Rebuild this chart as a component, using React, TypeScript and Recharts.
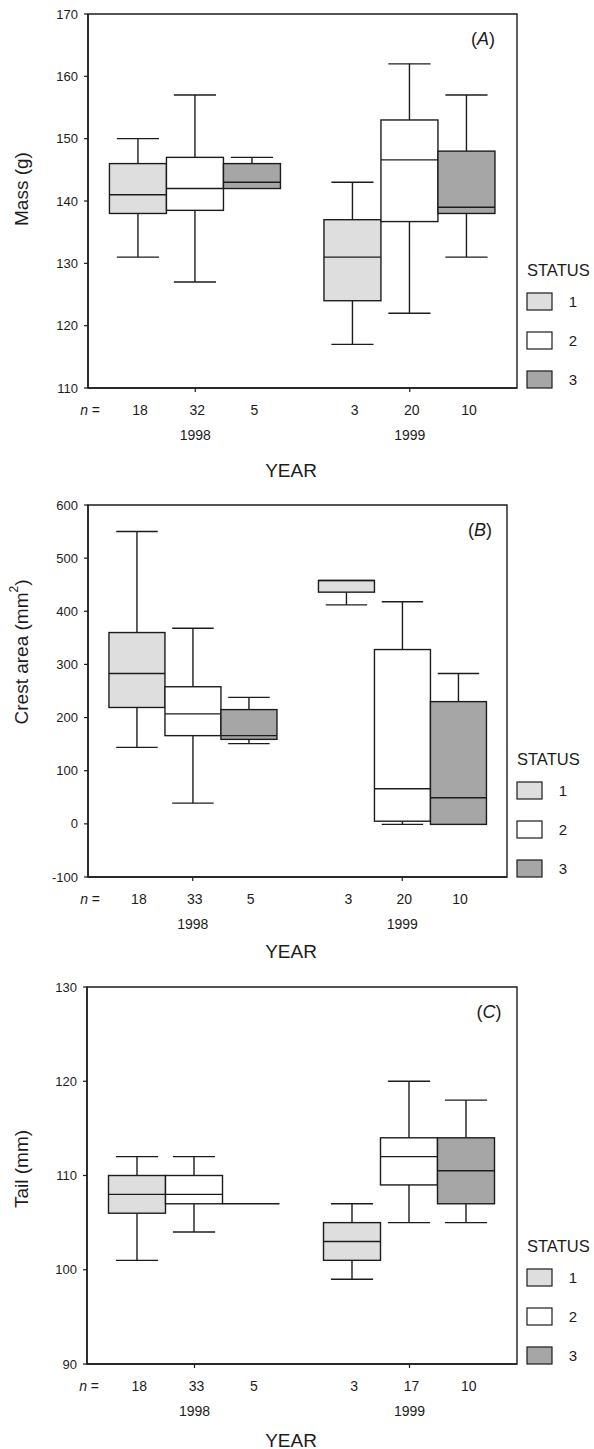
import React from "react"
import { Bar, ComposedChart, ReferenceArea, XAxis, YAxis } from "recharts"

// each box is [min, q1, median, q3, max]
const years = ["1998", "1999"]
const statuses = ["1", "2", "3"]
const statusFills = ["#dedede", "#ffffff", "#a6a6a6"]

const massStatus1 = [[131, 138, 141, 146, 150], [117, 124, 131, 137, 143]]
const massStatus2 = [[127, 138.5, 142, 147, 157], [122, 136.7, 146.6, 153, 162]]
const massStatus3 = [[142, 142, 143, 146, 147], [131, 138, 139, 148, 157]]
const massN = [[18, 32, 5], [3, 20, 10]]
const massTicks = [110, 120, 130, 140, 150, 160, 170]

const crestStatus1 = [[144, 219, 283, 360, 550], [412, 436, 458, 458, 458]]
const crestStatus2 = [[39, 166, 207, 258, 368], [-1, 5, 66, 328, 418]]
const crestStatus3 = [[151, 159, 166, 215, 238], [-1, -1, 49, 230, 283]]
const crestN = [[18, 33, 5], [3, 20, 10]]
const crestTicks = [-100, 0, 100, 200, 300, 400, 500, 600]

const tailStatus1 = [[101, 106, 108, 110, 112], [99, 101, 103, 105, 107]]
const tailStatus2 = [[104, 107, 108, 110, 112], [105, 109, 112, 114, 120]]
const tailStatus3 = [[107, 107, 107, 107, 107], [105, 107, 110.5, 114, 118]]
const tailN = [[18, 33, 5], [3, 17, 10]]
const tailTicks = [90, 100, 110, 120, 130]

type Row = { year: string; s1: number[]; s2: number[]; s3: number[]; n: number[] }

const buildRows = (s1: number[][], s2: number[][], s3: number[][], n: number[][]): Row[] =>
  years.map((year, i) => ({ year, s1: s1[i], s2: s2[i], s3: s3[i], n: n[i] }))

const INK = "#1c1c1c"
const FONT = "'Liberation Sans', Arial, sans-serif"
const W = 594
const GAP = 0.1

const BoxShape = (props: any) => {
  const { x, y, width, height, stats, fill } = props
  const [lo, q1, med, q3, hi] = stats as number[]
  const top = Math.min(y, y + height)
  const bottom = Math.max(y, y + height)
  const span = hi - lo
  const py = (v: number) => (span === 0 ? top : top + ((hi - v) / span) * (bottom - top))
  const cx = x + width / 2
  const cap = width * 0.74
  const yq1 = py(q1)
  const yq3 = py(q3)
  return (
    <g stroke={INK} strokeWidth={1.4} fill="none">
      <line x1={cx} x2={cx} y1={py(hi)} y2={yq3} />
      <line x1={cx} x2={cx} y1={yq1} y2={py(lo)} />
      {hi > q3 && <line x1={cx - cap / 2} x2={cx + cap / 2} y1={py(hi)} y2={py(hi)} />}
      {lo < q1 && <line x1={cx - cap / 2} x2={cx + cap / 2} y1={py(lo)} y2={py(lo)} />}
      {yq1 - yq3 > 0 && <rect x={x} y={yq3} width={width} height={yq1 - yq3} fill={fill} />}
      <line x1={x} x2={x + width} y1={py(med)} y2={py(med)} />
    </g>
  )
}

interface PanelProps {
  rows: Row[]
  domain: [number, number]
  ticks: number[]
  yLabel: React.ReactNode
  tag: string
  top: number
  height: number
  plotTop: number
  plotBottom: number
  plotLeft: number
  plotRight: number
  yLabelCenter: number
  tagDx: number
  yearDy: number
}

function Panel(p: PanelProps) {
  const xAxisH = 70
  const margin = {
    top: p.plotTop,
    right: W - p.plotRight,
    bottom: p.height - p.plotBottom - xAxisH,
    left: 0,
  }
  const band = (p.plotRight - p.plotLeft) / years.length
  const barW = (band * (1 - 2 * GAP)) / statuses.length

  const renderTick = (t: any) => {
    const row = p.rows.find((r) => r.year === t.payload.value)
    if (!row) return <g />
    const nY = p.plotBottom + 27
    return (
      <g fontSize={14} fill={INK}>
        {t.index === 0 && (
          <text x={p.plotLeft + 12} y={nY} textAnchor="end" fill={INK}>
            <tspan fontStyle="italic">n</tspan> =
          </text>
        )}
        {row.n.map((n, k) => (
          <text key={k} x={t.x + (k - 1) * barW + 2} y={nY} textAnchor="middle" fill={INK}>
            {n}
          </text>
        ))}
        <text x={t.x} y={p.plotBottom + 52} textAnchor="middle" fill={INK}>
          {row.year}
        </text>
      </g>
    )
  }

  const legendX = p.plotRight + 10
  const swatchTops = [p.plotBottom - 95, p.plotBottom - 56, p.plotBottom - 17]

  return (
    <div style={{ position: "absolute", left: 0, top: p.top, width: W, height: p.height }}>
      <ComposedChart
        width={W}
        height={p.height}
        data={p.rows}
        margin={margin}
        barCategoryGap={`${GAP * 100}%`}
        barGap={0}
      >
        <XAxis
          dataKey="year"
          height={xAxisH}
          interval={0}
          tickSize={4}
          tickMargin={0}
          axisLine={{ stroke: INK, strokeWidth: 1.4 }}
          tickLine={{ stroke: INK, strokeWidth: 1.2 }}
          tick={renderTick}
        />
        <YAxis
          type="number"
          domain={p.domain}
          ticks={p.ticks}
          interval={0}
          width={p.plotLeft}
          tickSize={4}
          tickMargin={6}
          allowDataOverflow
          axisLine={{ stroke: INK, strokeWidth: 1.4 }}
          tickLine={{ stroke: INK, strokeWidth: 1.2 }}
          tick={{ fontSize: 13, fill: INK }}
        />
        <ReferenceArea
          y1={p.domain[0]}
          y2={p.domain[1]}
          fill="none"
          stroke={INK}
          strokeWidth={1.4}
          ifOverflow="visible"
        />
        {statuses.map((s, i) => {
          const key = ("s" + s) as "s1" | "s2" | "s3"
          return (
            <Bar
              key={s}
              dataKey={(d: Row) => [d[key][0], d[key][4]]}
              fill={statusFills[i]}
              isAnimationActive={false}
              shape={(bp: any) => <BoxShape {...bp} stats={bp.payload[key]} fill={statusFills[i]} />}
            />
          )
        })}
      </ComposedChart>
      <svg
        width={W}
        height={p.height}
        style={{ position: "absolute", left: 0, top: 0, pointerEvents: "none", overflow: "visible" }}
        fill={INK}
      >
        <text
          transform={`translate(21, ${p.yLabelCenter}) rotate(-90)`}
          textAnchor="middle"
          dominantBaseline="central"
          fontSize={19}
        >
          {p.yLabel}
        </text>
        <text x={p.plotRight - p.tagDx} y={p.plotTop + 31} textAnchor="middle" fontSize={18}>
          (<tspan fontStyle="italic">{p.tag}</tspan>)
        </text>
        <text x={291} y={p.plotBottom + p.yearDy} textAnchor="middle" fontSize={19}>
          YEAR
        </text>
        <text x={legendX} y={p.plotBottom - 112} fontSize={16.5}>
          STATUS
        </text>
        {statuses.map((s, i) => (
          <g key={s}>
            <rect
              x={legendX}
              y={swatchTops[i]}
              width={25}
              height={17}
              fill={statusFills[i]}
              stroke={INK}
              strokeWidth={1.2}
            />
            <text x={p.plotRight + 56} y={swatchTops[i] + 14} textAnchor="middle" fontSize={15}>
              {s}
            </text>
          </g>
        ))}
      </svg>
    </div>
  )
}

export default function App() {
  return (
    <div
      style={{
        position: "absolute",
        left: 0,
        top: 0,
        width: W,
        height: 1449,
        background: "#fff",
        fontFamily: FONT,
        color: INK,
      }}
    >
      <Panel
        rows={buildRows(massStatus1, massStatus2, massStatus3, massN)}
        domain={[110, 170]}
        ticks={massTicks}
        yLabel="Mass (g)"
        tag="A"
        top={0}
        height={480}
        plotTop={14}
        plotBottom={388}
        plotLeft={88}
        plotRight={517}
        yLabelCenter={189}
        tagDx={34}
        yearDy={89}
      />
      <Panel
        rows={buildRows(crestStatus1, crestStatus2, crestStatus3, crestN)}
        domain={[-100, 600]}
        ticks={crestTicks}
        yLabel={
          <>
            Crest area (mm<tspan dy={-7} fontSize={12}>2</tspan>
            <tspan dy={7}>)</tspan>
          </>
        }
        tag="B"
        top={480}
        height={480}
        plotTop={25}
        plotBottom={397}
        plotLeft={88}
        plotRight={507}
        yLabelCenter={172}
        tagDx={27}
        yearDy={81}
      />
      <Panel
        rows={buildRows(tailStatus1, tailStatus2, tailStatus3, tailN)}
        domain={[90, 130]}
        ticks={tailTicks}
        yLabel="Tail (mm)"
        tag="C"
        top={960}
        height={489}
        plotTop={27}
        plotBottom={404}
        plotLeft={87}
        plotRight={517}
        yLabelCenter={209}
        tagDx={28}
        yearDy={83}
      />
    </div>
  )
}
